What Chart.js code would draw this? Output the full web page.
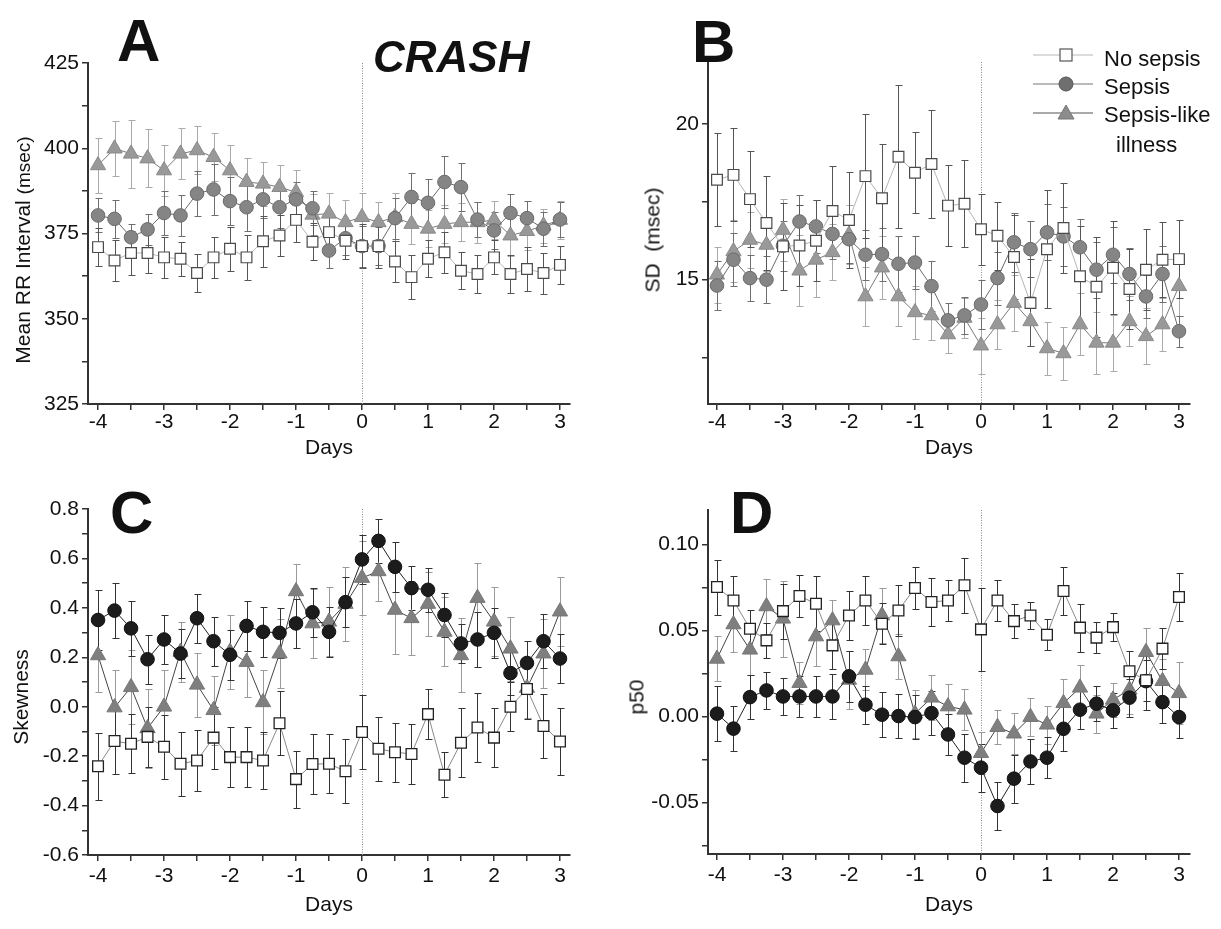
<!DOCTYPE html>
<html>
<head>
<meta charset="utf-8">
<title>CRASH – heart rate characteristics around sepsis</title>
<script src="https://cdn.jsdelivr.net/npm/chart.js@4.4.1/dist/chart.umd.min.js"></script>
<style>
  html, body { margin: 0; padding: 0; background: #fff; }
  #fig { position: relative; width: 1221px; height: 929px; background: #fff; overflow: hidden;
         font-family: "Liberation Sans", Arial, sans-serif; color: #111; }
  #fig canvas { position: absolute; }
  .letter { position: absolute; font-weight: bold; font-size: 60px; line-height: 1; }
  .crash { position: absolute; font-weight: bold; font-style: italic; font-size: 44px; line-height: 1; }
  .ytitle { position: absolute; font-size: 21px; line-height: 1; white-space: nowrap;
            transform: translate(-50%, -50%) rotate(-90deg); }
  .leg { position: absolute; font-size: 22px; line-height: 1; white-space: nowrap; }
  #legendMarks { position: absolute; left: 1020px; top: 40px; }
</style>
</head>
<body>
<div id="fig">
  <canvas id="chartA" width="600" height="465" style="left:0;top:0"></canvas>
  <canvas id="chartB" width="621" height="465" style="left:600px;top:0"></canvas>
  <canvas id="chartC" width="600" height="464" style="left:0;top:465px"></canvas>
  <canvas id="chartD" width="621" height="464" style="left:600px;top:465px"></canvas>

  <div class="letter" style="left:117px;top:11px">A</div>
  <div class="letter" style="left:692px;top:12px">B</div>
  <div class="letter" style="left:110px;top:483px">C</div>
  <div class="letter" style="left:730px;top:483px">D</div>
  <div class="crash" style="left:373px;top:35px">CRASH</div>

  <div class="ytitle" style="left:22px;top:250px">Mean RR Interval <span style="font-size:19px">(msec)</span></div>
  <div class="ytitle" style="left:652px;top:240px">SD&nbsp;&nbsp;(msec)</div>
  <div class="ytitle" style="left:20px;top:697px">Skewness</div>
  <div class="ytitle" style="left:636px;top:697px">p50</div>

  <svg id="legendMarks" width="90" height="90" viewBox="1020 40 90 90">
    <line x1="1033" y1="55" x2="1093" y2="55" stroke="#b8b8b8" stroke-width="1.2"/>
    <rect x="1060" y="49" width="12" height="12" fill="#fff" stroke="#555" stroke-width="1.2"/>
    <line x1="1033" y1="84" x2="1093" y2="84" stroke="#777" stroke-width="1.2"/>
    <circle cx="1066" cy="84" r="7" fill="#6f6f6f" stroke="#555"/>
    <line x1="1033" y1="113" x2="1093" y2="113" stroke="#555" stroke-width="1.2"/>
    <polygon points="1066,105 1074,119 1058,119" fill="#8c8c8c" stroke="#777"/>
  </svg>
  <div class="leg" style="left:1104px;top:48px">No sepsis</div>
  <div class="leg" style="left:1104px;top:76px">Sepsis</div>
  <div class="leg" style="left:1104px;top:104px">Sepsis-like</div>
  <div class="leg" style="left:1116px;top:134px">illness</div>
</div>

<script>
// days relative to the event, every 6 hours
const DAYS = [-4, -3.75, -3.5, -3.25, -3, -2.75, -2.5, -2.25, -2, -1.75, -1.5, -1.25, -1, -0.75,
  -0.5, -0.25, 0, 0.25, 0.5, 0.75, 1, 1.25, 1.5, 1.75, 2, 2.25, 2.5, 2.75, 3];
const DAY_TICKS = [-4, -3.5, -3, -2.5, -2, -1.5, -1, -0.5, 0, 0.5, 1, 1.5, 2, 2.5, 3];
const DAY_LABELS = [-4, -3, -2, -1, 0, 1, 2, 3];

// A: mean RR interval (msec)
const A_TICKS = [325, 337.5, 350, 362.5, 375, 387.5, 400, 412.5, 425];
const A_LABELS = [325, 350, 375, 400, 425];
const A_NOSEPSIS = [371.0, 367.1, 369.3, 369.3, 368.0, 367.6, 363.4, 368.0, 370.5, 368.0, 372.7, 374.4, 379.0, 372.6,
  375.4, 372.9, 371.3, 371.3, 366.8, 362.2, 367.6, 369.5, 364.1, 363.1, 368.0, 363.1, 364.6, 363.4, 365.8];
const A_NOSEPSIS_ERR = [5.5, 6.0, 6.5, 6.0, 6.0, 5.0, 5.5, 6.0, 6.5, 6.5, 7.5, 6.0, 6.5, 5.5,
  5.0, 5.5, 6.5, 6.5, 6.0, 6.5, 5.5, 6.0, 5.5, 5.5, 5.0, 5.5, 6.5, 6.0, 5.5];
const A_SEPSIS = [380.3, 379.3, 373.9, 376.2, 381.0, 380.3, 386.7, 387.9, 384.5, 382.7, 385.0, 382.7, 385.0, 382.4,
  370.0, 373.6, 371.3, 371.3, 379.5, 385.7, 384.0, 390.1, 388.6, 379.1, 375.9, 381.0, 379.5, 376.4, 379.1];
const A_SEPSIS_ERR = [5.0, 5.5, 4.0, 4.5, 6.5, 6.0, 6.5, 7.5, 7.0, 7.0, 5.5, 6.0, 5.0, 5.0,
  5.0, 5.0, 6.0, 5.5, 6.0, 7.0, 7.0, 7.5, 7.0, 5.0, 5.5, 5.5, 5.0, 5.0, 5.0];
const A_LIKE = [395.0, 399.9, 398.4, 397.0, 393.5, 398.4, 399.4, 397.4, 393.5, 390.1, 389.6, 388.6, 387.1, 380.5,
  380.8, 378.3, 379.8, 378.3, 379.8, 377.8, 376.4, 377.8, 378.3, 378.3, 379.0, 374.4, 375.7, 377.3, 379.0];
const A_LIKE_ERR = [8.0, 8.0, 10.0, 8.5, 7.5, 7.5, 7.0, 7.0, 7.5, 7.0, 6.5, 6.5, 6.5, 6.0,
  6.0, 6.5, 7.0, 6.0, 7.0, 6.0, 5.5, 5.5, 5.5, 6.0, 5.5, 6.0, 5.5, 5.0, 5.5];

// B: SD of RR intervals (msec)
const B_TICKS = [12.5, 15, 17.5, 20];
const B_LABELS = [15, 20];
const B_NOSEPSIS = [18.21, 18.37, 17.59, 16.82, 16.07, 16.10, 16.25, 17.21, 16.92, 18.33, 17.62, 18.95, 18.44, 18.72,
  17.38, 17.44, 16.62, 16.41, 15.73, 14.25, 15.98, 16.66, 15.11, 14.77, 15.38, 14.70, 15.32, 15.64, 15.66];
const B_NOSEPSIS_ERR = [1.5, 1.5, 1.55, 1.5, 1.4, 1.3, 1.3, 1.45, 1.55, 2.0, 1.75, 2.3, 1.3, 1.75,
  1.3, 1.4, 1.15, 1.1, 1.35, 1.4, 1.9, 1.45, 1.6, 1.6, 1.5, 1.3, 1.3, 1.2, 1.25];
const B_SEPSIS = [14.81, 15.64, 15.05, 15.00, 16.09, 16.87, 16.71, 16.47, 16.30, 15.80, 15.82, 15.51, 15.55, 14.79,
  13.69, 13.85, 14.20, 15.05, 16.20, 15.98, 16.52, 16.39, 16.04, 15.32, 15.80, 15.18, 14.46, 15.18, 13.34];
const B_SEPSIS_ERR = [0.8, 0.85, 0.75, 0.75, 0.8, 0.85, 0.85, 0.8, 0.75, 0.8, 0.85, 0.9, 0.85, 0.8,
  0.55, 0.6, 0.8, 0.85, 0.95, 0.9, 0.9, 0.95, 0.9, 0.9, 0.9, 0.85, 0.7, 0.9, 0.5];
const B_LIKE = [15.16, 15.91, 16.28, 16.12, 16.60, 15.29, 15.64, 15.88, 16.44, 14.46, 15.39, 14.46, 13.95, 13.85,
  13.24, 13.77, 12.88, 13.56, 14.25, 13.66, 12.79, 12.63, 13.56, 12.97, 12.97, 13.66, 13.18, 13.56, 14.79];
const B_LIKE_ERR = [0.9, 1.0, 0.9, 0.85, 1.0, 1.15, 1.2, 0.9, 0.95, 0.95, 1.0, 0.95, 0.85, 0.8,
  0.6, 0.65, 0.9, 0.8, 0.9, 0.8, 0.85, 0.85, 1.0, 1.0, 0.9, 0.8, 0.9, 0.85, 0.95];

// C: skewness
const C_TICKS = [-0.6, -0.5, -0.4, -0.3, -0.2, -0.1, 0, 0.1, 0.2, 0.3, 0.4, 0.5, 0.6, 0.7, 0.8];
const C_LABELS = [-0.6, -0.4, -0.2, 0, 0.2, 0.4, 0.6, 0.8];
const C_NOSEPSIS = [-0.241, -0.139, -0.150, -0.122, -0.162, -0.231, -0.218, -0.125, -0.204, -0.204, -0.218, -0.067, -0.293, -0.232,
  -0.231, -0.261, -0.102, -0.170, -0.184, -0.191, -0.030, -0.275, -0.146, -0.084, -0.125, 0.0, 0.072, -0.078, -0.141];
const C_NOSEPSIS_ERR = [0.136, 0.135, 0.12, 0.12, 0.13, 0.13, 0.125, 0.125, 0.12, 0.12, 0.115, 0.13, 0.115, 0.12,
  0.12, 0.13, 0.15, 0.13, 0.12, 0.12, 0.1, 0.09, 0.14, 0.14, 0.12, 0.1, 0.12, 0.13, 0.135];
const C_SEPSIS = [0.351, 0.389, 0.317, 0.192, 0.272, 0.215, 0.358, 0.265, 0.210, 0.327, 0.303, 0.299, 0.337, 0.382,
  0.303, 0.423, 0.596, 0.671, 0.566, 0.480, 0.473, 0.371, 0.256, 0.272, 0.299, 0.136, 0.177, 0.265, 0.195];
const C_SEPSIS_ERR = [0.12, 0.11, 0.11, 0.1, 0.1, 0.1, 0.1, 0.1, 0.1, 0.1, 0.1, 0.1, 0.1, 0.1,
  0.1, 0.1, 0.1, 0.09, 0.1, 0.09, 0.09, 0.09, 0.08, 0.11, 0.1, 0.09, 0.09, 0.11, 0.1];
const C_LIKE = [0.208, -0.003, 0.079, -0.087, 0.0, 0.222, 0.089, -0.014, 0.222, 0.181, 0.018, 0.215, 0.467, 0.337,
  0.344, 0.416, 0.521, 0.548, 0.392, 0.358, 0.416, 0.303, 0.208, 0.440, 0.344, 0.235, 0.076, 0.215, 0.385];
const C_LIKE_ERR = [0.15, 0.15, 0.15, 0.16, 0.15, 0.12, 0.13, 0.14, 0.15, 0.14, 0.13, 0.14, 0.11, 0.14,
  0.14, 0.15, 0.15, 0.12, 0.18, 0.15, 0.13, 0.14, 0.15, 0.14, 0.14, 0.13, 0.12, 0.14, 0.14];

// D: p50
const D_TICKS = [-0.075, -0.05, -0.025, 0, 0.025, 0.05, 0.075, 0.1];
const D_LABELS = [-0.05, 0, 0.05, 0.1];
const D_NOSEPSIS = [0.0752, 0.0674, 0.0510, 0.0442, 0.0612, 0.0700, 0.0655, 0.0413, 0.0587, 0.0674, 0.0539, 0.0616, 0.0747, 0.0665,
  0.0674, 0.0762, 0.0506, 0.0674, 0.0554, 0.0587, 0.0475, 0.0729, 0.0516, 0.0458, 0.0519, 0.0262, 0.0210, 0.0394, 0.0694];
const D_NOSEPSIS_ERR = [0.016, 0.014, 0.011, 0.01, 0.016, 0.012, 0.016, 0.014, 0.014, 0.014, 0.012, 0.015, 0.012, 0.014,
  0.012, 0.016, 0.024, 0.012, 0.01, 0.008, 0.009, 0.014, 0.014, 0.009, 0.008, 0.012, 0.012, 0.012, 0.014];
const D_SEPSIS = [0.0016, -0.0071, 0.0112, 0.0151, 0.0116, 0.0116, 0.0116, 0.0116, 0.0233, 0.0068, 0.0010, 0.0002, -0.0004, 0.0019,
  -0.0105, -0.0240, -0.0298, -0.0521, -0.0362, -0.0262, -0.0240, -0.0072, 0.0039, 0.0074, 0.0035, 0.0109, 0.0205, 0.0083, -0.0004];
const D_SEPSIS_ERR = [0.016, 0.013, 0.013, 0.011, 0.011, 0.012, 0.012, 0.013, 0.015, 0.011, 0.013, 0.013, 0.013, 0.013,
  0.012, 0.014, 0.014, 0.014, 0.014, 0.013, 0.012, 0.013, 0.011, 0.01, 0.01, 0.011, 0.017, 0.012, 0.012];
const D_LIKE = [0.0335, 0.0535, 0.0388, 0.0640, 0.0568, 0.0194, 0.0465, 0.0558, 0.0213, 0.0271, 0.0587, 0.0349, 0.0016, 0.0109,
  0.0058, 0.0039, -0.0213, -0.0062, -0.0100, -0.0004, -0.0048, 0.0077, 0.0167, 0.0016, 0.0097, 0.0155, 0.0374, 0.0205, 0.0135];
const D_LIKE_ERR = [0.013, 0.016, 0.015, 0.016, 0.022, 0.012, 0.017, 0.012, 0.017, 0.012, 0.016, 0.013, 0.014, 0.013,
  0.013, 0.012, 0.012, 0.01, 0.012, 0.011, 0.011, 0.014, 0.013, 0.011, 0.01, 0.014, 0.014, 0.013, 0.018];

const FONT = "'Liberation Sans', Arial, sans-serif";
const INK = "#111";

// vertical dotted line at day 0
const zeroLine = {
  id: "zeroLine",
  beforeDatasetsDraw(chart) {
    const { ctx, chartArea, scales } = chart;
    const px = Math.round(scales.x.getPixelForValue(0)) + 0.5;
    ctx.save();
    ctx.strokeStyle = "#8a8a8a";
    ctx.lineWidth = 1;
    ctx.setLineDash([1, 1.5]);
    ctx.beginPath();
    ctx.moveTo(px, chartArea.top);
    ctx.lineTo(px, chartArea.bottom);
    ctx.stroke();
    ctx.restore();
  },
};

// +/- error whiskers with caps, drawn under the markers
const errorBars = {
  id: "errorBars",
  beforeDatasetsDraw(chart) {
    const { ctx, scales: { x, y } } = chart;
    ctx.save();
    ctx.lineWidth = 1;
    for (let d = chart.data.datasets.length - 1; d >= 0; d--) {
      const ds = chart.data.datasets[d];
      if (!ds.err) continue;
      ctx.strokeStyle = ds.errColor;
      ctx.beginPath();
      ds.data.forEach((p, i) => {
        const e = ds.err[i];
        const px = Math.round(x.getPixelForValue(p.x)) + 0.5;
        const top = Math.round(y.getPixelForValue(p.y + e)) + 0.5;
        const bot = Math.round(y.getPixelForValue(p.y - e)) + 0.5;
        ctx.moveTo(px, top); ctx.lineTo(px, bot);
        ctx.moveTo(px - 3, top); ctx.lineTo(px + 4, top);
        ctx.moveTo(px - 3, bot); ctx.lineTo(px + 4, bot);
      });
      ctx.stroke();
    }
    ctx.restore();
  },
};

function hasValue(list, v) {
  return list.some((l) => Math.abs(l - v) < 1e-9);
}

function styles(dark) {
  if (dark) {
    return {
      none: { borderColor: "#8a8a8a", pointStyle: "rect", pointRadius: 7.6, pointBackgroundColor: "#fff",
              pointBorderColor: "#222", pointBorderWidth: 1.3, errColor: "#333" },
      sepsis: { borderColor: "#222", pointStyle: "circle", pointRadius: 6.8, pointBackgroundColor: "#1c1c1c",
                pointBorderColor: "#111", pointBorderWidth: 1, errColor: "#333" },
      like: { borderColor: "#444", pointStyle: "triangle", pointRadius: 8.8, pointBackgroundColor: "#7f7f7f",
              pointBorderColor: "#777", pointBorderWidth: 1, errColor: "#9a9a9a" },
    };
  }
  return {
    none: { borderColor: "#b5b5b5", pointStyle: "rect", pointRadius: 7.6, pointBackgroundColor: "#fff",
            pointBorderColor: "#4a4a4a", pointBorderWidth: 1.2, errColor: "#555" },
    sepsis: { borderColor: "#6a6a6a", pointStyle: "circle", pointRadius: 6.8, pointBackgroundColor: "#858585",
              pointBorderColor: "#6a6a6a", pointBorderWidth: 1, errColor: "#6f6f6f" },
    like: { borderColor: "#7a7a7a", pointStyle: "triangle", pointRadius: 8.8, pointBackgroundColor: "#999",
            pointBorderColor: "#8a8a8a", pointBorderWidth: 1, errColor: "#aaa" },
  };
}

function makePanel(id, p) {
  const st = styles(p.dark);
  const series = [
    { label: "No sepsis", values: p.none, err: p.noneErr, style: st.none },
    { label: "Sepsis", values: p.sepsis, err: p.sepsisErr, style: st.sepsis },
    { label: "Sepsis-like illness", values: p.like, err: p.likeErr, style: st.like },
  ];
  return new Chart(document.getElementById(id), {
    type: "line",
    data: {
      datasets: series.map((s) => ({
        label: s.label,
        data: DAYS.map((d, i) => ({ x: d, y: s.values[i] })),
        err: s.err,
        borderWidth: 1,
        tension: 0,
        clip: false,
        ...s.style,
      })),
    },
    options: {
      responsive: false,
      animation: false,
      events: [],
      layout: { padding: { left: 0, top: p.top, right: p.right, bottom: 0 } },
      plugins: { legend: { display: false }, tooltip: { enabled: false } },
      scales: {
        x: {
          type: "linear",
          min: p.xMin,
          max: p.xMax,
          afterBuildTicks: (axis) => { axis.ticks = DAY_TICKS.map((v) => ({ value: v })); },
          afterFit: (axis) => { axis.height = p.xHeight; },
          ticks: {
            autoSkip: false, maxRotation: 0, padding: p.tickPad, color: INK,
            font: { family: FONT, size: 21 },
            callback: (v) => (hasValue(DAY_LABELS, v) ? String(v) : ""),
          },
          grid: { drawOnChartArea: false, tickLength: 6, color: "#333", lineWidth: 1.5 },
          border: { color: "#333", width: 2 },
          title: { display: true, text: "Days", color: INK, font: { family: FONT, size: 21 },
                   padding: { top: 0, bottom: p.titlePad } },
        },
        y: {
          min: p.yMin,
          max: p.yMax,
          afterBuildTicks: (axis) => { axis.ticks = p.yTicks.map((v) => ({ value: v })); },
          afterFit: (axis) => { axis.width = p.yWidth; },
          ticks: {
            autoSkip: false, padding: 3, color: INK,
            font: { family: FONT, size: 21 },
            callback: (v) => (hasValue(p.yLabels, v) ? p.fmt(v) : ""),
          },
          grid: { drawOnChartArea: false, tickLength: 6, color: "#333", lineWidth: 1.5 },
          border: { color: "#333", width: 2 },
        },
      },
    },
    plugins: [zeroLine, errorBars],
  });
}

makePanel("chartA", {
  dark: false, top: 63, right: 30, yWidth: 88, xHeight: 61, titlePad: 4, tickPad: 0,
  xMin: -4.152, xMax: 3.152, yMin: 325, yMax: 425,
  yTicks: A_TICKS, yLabels: A_LABELS, fmt: (v) => String(v),
  none: A_NOSEPSIS, noneErr: A_NOSEPSIS_ERR, sepsis: A_SEPSIS, sepsisErr: A_SEPSIS_ERR,
  like: A_LIKE, likeErr: A_LIKE_ERR,
});

makePanel("chartB", {
  dark: false, top: 62, right: 31, yWidth: 108, xHeight: 61, titlePad: 4, tickPad: 0,
  xMin: -4.136, xMax: 3.167, yMin: 11, yMax: 22,
  yTicks: B_TICKS, yLabels: B_LABELS, fmt: (v) => String(v),
  none: B_NOSEPSIS, noneErr: B_NOSEPSIS_ERR, sepsis: B_SEPSIS, sepsisErr: B_SEPSIS_ERR,
  like: B_LIKE, likeErr: B_LIKE_ERR,
});

makePanel("chartC", {
  dark: true, top: 44, right: 30, yWidth: 88, xHeight: 74, titlePad: 11, tickPad: 3,
  xMin: -4.152, xMax: 3.152, yMin: -0.6, yMax: 0.8,
  yTicks: C_TICKS, yLabels: C_LABELS, fmt: (v) => v.toFixed(1),
  none: C_NOSEPSIS, noneErr: C_NOSEPSIS_ERR, sepsis: C_SEPSIS, sepsisErr: C_SEPSIS_ERR,
  like: C_LIKE, likeErr: C_LIKE_ERR,
});

makePanel("chartD", {
  dark: true, top: 45, right: 31, yWidth: 108, xHeight: 75, titlePad: 11, tickPad: 3,
  xMin: -4.136, xMax: 3.167, yMin: -0.08, yMax: 0.12,
  yTicks: D_TICKS, yLabels: D_LABELS, fmt: (v) => v.toFixed(2),
  none: D_NOSEPSIS, noneErr: D_NOSEPSIS_ERR, sepsis: D_SEPSIS, sepsisErr: D_SEPSIS_ERR,
  like: D_LIKE, likeErr: D_LIKE_ERR,
});
</script>
</body>
</html>
